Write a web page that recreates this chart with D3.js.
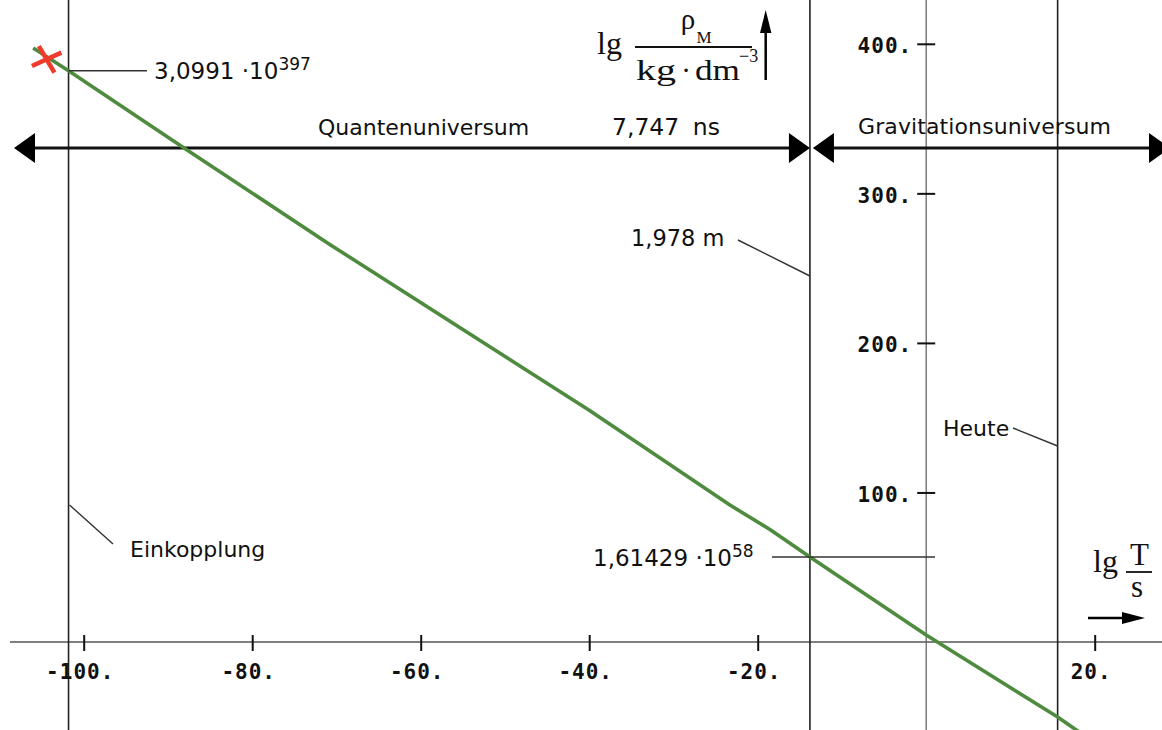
<!DOCTYPE html>
<html><head><meta charset="utf-8">
<script src="https://cdn.jsdelivr.net/npm/d3@7"></script>
<style>body{margin:0;background:#fff}svg{display:block}</style>
</head><body><svg id="c" width="1162" height="730"></svg>
<script>
// ---- data (lg T/s  vs  lg rho_M/(kg dm^-3)) ----
const curveX = [-106, -101.8, -88, -70.7, -40, -23.3, -18.5, -13.8, 0, 15.6, 19.4];
const curveY = [397.2, 382, 330, 265.5, 155, 91.6, 75, 56.8, 4.7, -50.2, -65];
const xTicks = [-100, -80, -60, -40, -20, 20];
const yTicks = [100, 200, 300, 400];
const startMarker = [-104.4, 389.6];
const epochLines = [-101.8, -13.8, 15.6];          // Einkopplung, 1,978 m, Heute
const epochValues = [382, 56.8];                   // curve values at Einkopplung and 1,978 m

const W = 1162, H = 730;
const svg = d3.select("#c");
const x = d3.scaleLinear().domain([-20, 20]).range([757.7, 1094.7]);
const y = d3.scaleLinear().domain([0, 400]).range([642, 43.8]);
const sans = "'DejaVu Sans', sans-serif";
const serif = "'Liberation Serif', 'Times New Roman', serif";
const mono = "'DejaVu Sans Mono', monospace";

// axis lines
svg.append("line").attr("x1", 10).attr("x2", W).attr("y1", y(0)).attr("y2", y(0))
  .attr("stroke", "#555").attr("stroke-width", 1.5);
svg.append("line").attr("x1", x(0)).attr("x2", x(0)).attr("y1", 0).attr("y2", H)
  .attr("stroke", "#666").attr("stroke-width", 1.3);

// epoch vertical lines
svg.selectAll("line.ep").data(epochLines).enter().append("line").attr("class", "ep")
  .attr("x1", d => x(d)).attr("x2", d => x(d)).attr("y1", 0).attr("y2", H)
  .attr("stroke", "#222").attr("stroke-width", 1.6);

// x axis ticks
const gx = svg.append("g").attr("transform", `translate(0,${y(0)})`)
  .call(d3.axisBottom(x).tickValues(xTicks).tickFormat(d => d + ".").tickSizeOuter(0));
gx.select(".domain").remove();
gx.selectAll(".tick line").attr("y1", -7).attr("y2", 9).attr("stroke", "#111").attr("stroke-width", 2);
gx.selectAll(".tick text").attr("y", 37).attr("dy", 0).attr("dx", -4)
  .attr("font-family", mono).attr("font-weight", "bold").attr("font-size", 21)
  .attr("letter-spacing", 1).attr("fill", "#111");

// y axis ticks
const gy = svg.append("g").attr("transform", `translate(${x(0)},0)`)
  .call(d3.axisLeft(y).tickValues(yTicks).tickFormat(d => d + ".").tickSizeOuter(0));
gy.select(".domain").remove();
gy.selectAll(".tick line").attr("x1", -9).attr("x2", 9).attr("stroke", "#111").attr("stroke-width", 2);
gy.selectAll(".tick text").attr("x", -14).attr("dy", 9).attr("text-anchor", "end")
  .attr("font-family", mono).attr("font-weight", "bold").attr("font-size", 21)
  .attr("letter-spacing", 1).attr("fill", "#111");

// top double arrows
const ay = 148;
function head(tipX, dir) { // dir -1 points left, +1 points right
  const b = tipX - dir * 21;
  return `${tipX},${ay} ${b},${ay - 15} ${b},${ay + 15}`;
}
const xa = x(epochLines[1]);
svg.append("line").attr("x1", 30).attr("x2", xa - 18).attr("y1", ay).attr("y2", ay).attr("stroke", "#111").attr("stroke-width", 3);
svg.append("line").attr("x1", xa + 20).attr("x2", W).attr("y1", ay).attr("y2", ay).attr("stroke", "#111").attr("stroke-width", 3);
[[14, -1], [xa, 1], [xa + 3, -1], [1170, 1]].forEach(([t, d]) =>
  svg.append("polygon").attr("points", head(t, d)).attr("fill", "#000"));

// curve
const pts = curveX.map((v, i) => [v, curveY[i]]);
svg.append("path").datum(pts)
  .attr("d", d3.line().x(d => x(d[0])).y(d => y(d[1])))
  .attr("fill", "none").attr("stroke", "#4e8b3e").attr("stroke-width", 3.6)
  .attr("stroke-linejoin", "round");

// red start marker
const mx = x(startMarker[0]), my = y(startMarker[1]);
svg.append("line").attr("x1", mx - 14.7).attr("y1", my + 6.7).attr("x2", mx + 14.7).attr("y2", my - 6.7)
  .attr("stroke", "#ee3b2b").attr("stroke-width", 4.5);
svg.append("line").attr("x1", mx - 7.8).attr("y1", my - 13.3).attr("x2", mx + 7.8).attr("y2", my + 13.3)
  .attr("stroke", "#ee3b2b").attr("stroke-width", 4.5);

// leader lines
const lead = (x1, y1, x2, y2) => svg.append("line").attr("x1", x1).attr("y1", y1).attr("x2", x2).attr("y2", y2)
  .attr("stroke", "#333").attr("stroke-width", 1.4);
lead(x(epochLines[0]), y(epochValues[0]), 147, y(epochValues[0]));
lead(738, 240, x(epochLines[1]), 276);
lead(x(epochLines[0]) + 1, 505, 113, 544);
lead(1013, 428, x(epochLines[2]), 446);
lead(772, y(epochValues[1]), 935, y(epochValues[1]));

// text labels
const txt = (s, tx, ty, size = 22) => svg.append("text").attr("x", tx).attr("y", ty)
  .attr("font-family", sans).attr("font-size", size).attr("fill", "#111").text(s);
const t1 = txt("3,0991 ·10", 154, 79, 23);
t1.append("tspan").attr("dy", -9).attr("font-size", 17).text("397");
const t2 = txt("1,61429 ·10", 593, 566, 23);
t2.append("tspan").attr("dy", -9).attr("font-size", 17).text("58");
txt("1,978 m", 631, 246, 22.5);
txt("Einkopplung", 130, 557);
txt("Heute", 943, 436);
txt("Quantenuniversum", 318, 135);
txt("7,747 ns", 612, 135, 23.5).attr("word-spacing", 6);
txt("Gravitationsuniversum", 858, 134).attr("textLength", 253).attr("lengthAdjust", "spacing");

// y-axis title (serif)
const st = (s, tx, ty, size, anchor = "start") => svg.append("text").attr("x", tx).attr("y", ty)
  .attr("font-family", serif).attr("font-size", size).attr("fill", "#111").attr("text-anchor", anchor).text(s);
st("lg", 597, 54, 32);
st("ρ", 688, 29, 29, "middle");
st("M", 704, 43, 17, "middle");
svg.append("line").attr("x1", 635).attr("x2", 752).attr("y1", 47).attr("y2", 47).attr("stroke", "#111").attr("stroke-width", 1.8);
st("kg", 636, 80, 29).attr("textLength", 40).attr("lengthAdjust", "spacingAndGlyphs");
st("·", 686, 80, 29, "middle");
st("dm", 695, 80, 29).attr("textLength", 45).attr("lengthAdjust", "spacingAndGlyphs");
st("−3", 739, 62, 18);
svg.append("line").attr("x1", 765.7).attr("x2", 765.7).attr("y1", 80).attr("y2", 30).attr("stroke", "#000").attr("stroke-width", 2.5);
svg.append("polygon").attr("points", "765.7,10 760,33 771.4,33").attr("fill", "#000");

// x-axis title (serif)
st("lg", 1093, 572, 32);
st("T", 1139.5, 565, 31, "middle");
svg.append("line").attr("x1", 1126).attr("x2", 1152).attr("y1", 572).attr("y2", 572).attr("stroke", "#111").attr("stroke-width", 1.8);
st("s", 1137, 597, 31, "middle");
svg.append("line").attr("x1", 1088).attr("x2", 1124).attr("y1", 618).attr("y2", 618).attr("stroke", "#000").attr("stroke-width", 2.5);
svg.append("polygon").attr("points", "1145,618 1122,612 1122,624").attr("fill", "#000");
</script>
</body></html>
